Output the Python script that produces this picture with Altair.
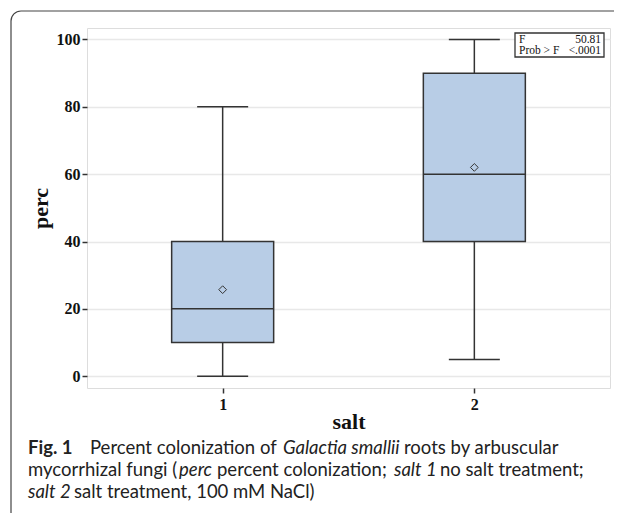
import altair as alt
import pandas as pd

# ---- data ----
salt = ["1", "2"]
mins = [0, 5]
q1 = [10, 40]
medians = [20, 60]
q3 = [40, 90]
maxs = [80, 100]
means = [25.7, 62]
y_ticks = [0, 20, 40, 60, 80, 100]

df = pd.DataFrame({"salt": salt, "min": mins, "q1": q1, "med": medians,
                   "q3": q3, "max": maxs, "mean": means})

W, H = 523, 360
DARK = "#333333"
SERIF = "Liberation Serif"
SANS = "Lato"

yscale = alt.Scale(domain=[-3.5, 103.4], nice=False, zero=False)
yaxis = alt.Axis(values=y_ticks, title="perc", grid=True, gridColor="#e8e8e8",
                 gridWidth=1.5, domain=False, tickColor=DARK, tickSize=5,
                 tickWidth=1.5, labelFont=SERIF, labelFontWeight="bold",
                 labelFontSize=16, labelColor="#111", labelPadding=2,
                 titleFont=SERIF, titleFontSize=22, titleFontWeight="bold",
                 titleColor="#111", titleX=-47, titleY=H / 2, titleAngle=-90,
                 titleAlign="center", titleBaseline="middle")
xaxis = alt.Axis(title="salt", labelAngle=0, domain=False, tickColor=DARK,
                 tickSize=5, tickWidth=1.5, labelFont=SERIF,
                 labelFontWeight="bold", labelFontSize=16, labelColor="#111",
                 labelPadding=3, titleFont=SERIF, titleFontSize=22,
                 titleFontWeight="bold", titleColor="#111", titleX=W / 2,
                 titleY=33, titleBaseline="middle", grid=False)
X = alt.X("salt:O", scale=alt.Scale(type="point", padding=0.539, domain=salt),
          axis=xaxis)


def Y(field):
    return alt.Y(f"{field}:Q", scale=yscale, axis=yaxis)


base = alt.Chart(df)
whisk_lo = base.mark_rule(color=DARK, strokeWidth=1.5).encode(x=X, y=Y("min"), y2="q1:Q")
whisk_hi = base.mark_rule(color=DARK, strokeWidth=1.5).encode(x=X, y=Y("q3"), y2="max:Q")
box = base.mark_bar(size=102, fill="#b8cde6", stroke=DARK, strokeWidth=1.5).encode(
    x=X, y=Y("q1"), y2="q3:Q")
median = base.mark_tick(size=102, thickness=1.5, color=DARK, opacity=1).encode(x=X, y=Y("med"))
cap_lo = base.mark_tick(size=51, thickness=1.5, color=DARK, opacity=1).encode(x=X, y=Y("min"))
cap_hi = base.mark_tick(size=51, thickness=1.5, color=DARK, opacity=1).encode(x=X, y=Y("max"))
mean_pt = base.mark_point(shape="diamond", size=60, filled=False, color=DARK,
                          strokeWidth=1, opacity=1).encode(x=X, y=Y("mean"))

one = alt.Data(values=[{"a": 1}])


def rect(x, x2, y, y2, **kw):
    return alt.Chart(one).mark_rect(clip=False, **kw).encode(
        x=alt.value(x), x2=alt.value(x2), y=alt.value(y), y2=alt.value(y2))


def txt(s, x, y, **kw):
    return alt.Chart(one).mark_text(clip=False, **kw).encode(
        x=alt.value(x), y=alt.value(y), text=alt.value(s))


OX, OY = 87, 28  # plot origin on the page

frame = rect(11 - OX, 660 - OX, 11 - OY, 522 - OY, fill="transparent",
             stroke="#444", strokeWidth=1.2, cornerRadius=10)

# statistics inset
inset = rect(515 - OX, 604 - OX, 33 - OY, 57 - OY, fill="white", stroke=DARK,
             strokeWidth=1.3)
ins_kw = dict(font=SERIF, fontSize=11.5, color="#111", baseline="middle")
inset_txt = [
    txt("F", 519 - OX, 39.5 - OY, align="left", **ins_kw),
    txt("50.81", 601 - OX, 39.5 - OY, align="right", **ins_kw),
    txt("Prob > F", 519 - OX, 51 - OY, align="left", **ins_kw),
    txt("<.0001", 601 - OX, 51 - OY, align="right", **ins_kw),
]

# caption
cap = dict(font=SANS, fontSize=18.5, color="#222", baseline="alphabetic", align="left")
L1, L2, L3 = 454, 476, 498
caption = [
    txt("Fig. 1", 28 - OX, L1 - OY, fontWeight="bold", **cap),
    txt("Percent colonization of", 90 - OX, L1 - OY, **cap),
    txt("Galactia smallii", 283 - OX, L1 - OY, fontStyle="italic", **cap),
    txt("roots by arbuscular", 404 - OX, L1 - OY, **cap),
    txt("mycorrhizal fungi (", 28 - OX, L2 - OY, **cap),
    txt("perc", 179 - OX, L2 - OY, fontStyle="italic", **cap),
    txt("percent colonization;", 217 - OX, L2 - OY, **cap),
    txt("salt 1", 394 - OX, L2 - OY, fontStyle="italic", **cap),
    txt("no salt treatment;", 440 - OX, L2 - OY, **cap),
    txt("salt 2", 28 - OX, L3 - OY, fontStyle="italic", **cap),
    txt("salt treatment, 100 mM NaCl)", 74 - OX, L3 - OY, **cap),
]

chart = alt.layer(
    whisk_lo, whisk_hi, box, median, cap_lo, cap_hi, mean_pt,
    frame, inset, *inset_txt, *caption,
).properties(
    width=W, height=H, autosize=alt.AutoSizeParams(type="none"),
    padding={"left": 79, "top": 20, "right": 4, "bottom": 125},
).configure_view(stroke=DARK, strokeWidth=2).configure(background="white")

chart.save("out.html", embed_options={"renderer": "svg", "actions": False})
